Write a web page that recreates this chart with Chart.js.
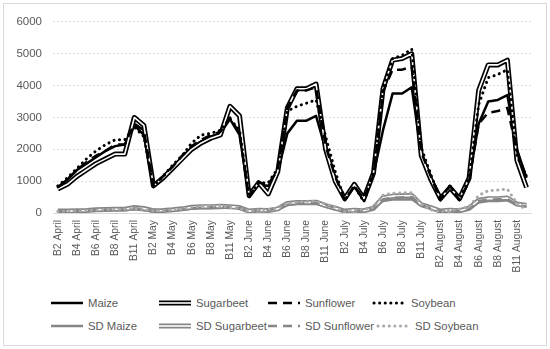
<!DOCTYPE html>
<html>
<head>
<meta charset="utf-8">
<script src="https://cdn.jsdelivr.net/npm/chart.js@4/dist/chart.umd.min.js"></script>
<style>
  body { margin: 0; background: #fff; font-family: "Liberation Sans", Arial, sans-serif; }
  #frame { position: absolute; left: 3px; top: 3px; width: 542px; height: 341px; border: 1px solid #d9d9d9; }
  #wrap { position: absolute; left: 0; top: 0; width: 542px; height: 276px; }
  .lg { position: absolute; height: 14px; display: flex; align-items: center; font-size: 11.3px; color: #595959; white-space: nowrap; }
  .lg canvas { margin-right: 3px; }
</style>
</head>
<body>
<div id="frame">
  <div id="wrap"><canvas id="chart"></canvas></div>
  <div id="legend"></div>
</div>
<script>
// categories: 10 Sentinel bands per month
const bands = ['B2', 'B3', 'B4', 'B5', 'B6', 'B7', 'B8', 'B8A', 'B11', 'B12'];
const months = ['April', 'May', 'June', 'July', 'August'];
const categories = months.flatMap(m => bands.map(b => b + ' ' + m));
const yTicks = [0, 1000, 2000, 3000, 4000, 5000, 6000];

// mean reflectance (x10000)
const maize = [
  800, 1050, 1350, 1550, 1750, 1950, 2100, 2150, 2750, 2450,
  850, 1150, 1450, 1750, 2050, 2250, 2400, 2500, 2950, 2450,
  500, 900, 850, 1300, 2500, 2900, 2900, 3050, 2000, 1050,
  400, 850, 500, 1200, 2600, 3750, 3750, 3950, 1850, 1100,
  400, 850, 450, 1050, 2800, 3500, 3550, 3700, 2000, 1100
];
const sugarbeet = [
  750, 900, 1150, 1350, 1550, 1700, 1850, 1850, 3000, 2750,
  850, 1100, 1400, 1700, 2000, 2200, 2350, 2450, 3350, 3050,
  550, 950, 600, 1300, 3300, 3900, 3900, 4050, 2000, 1000,
  450, 900, 450, 1250, 3900, 4800, 4850, 5000, 1800, 1050,
  450, 800, 450, 1100, 3850, 4650, 4650, 4800, 1650, 800
];
const sunflower = [
  800, 1050, 1350, 1600, 1800, 1950, 2150, 2150, 2800, 2600,
  850, 1150, 1450, 1800, 2100, 2300, 2450, 2550, 3000, 2500,
  500, 950, 900, 1350, 3300, 3850, 3850, 3950, 2100, 1150,
  400, 850, 450, 1200, 3800, 4500, 4500, 4600, 1900, 1150,
  400, 850, 400, 1000, 2800, 3150, 3200, 3300, 1950, 1100
];
const soybean = [
  850, 1100, 1400, 1700, 1950, 2150, 2300, 2300, 2700, 2400,
  850, 1150, 1500, 1800, 2200, 2450, 2500, 2600, 2950, 2600,
  550, 950, 950, 1400, 3200, 3350, 3450, 3550, 2400, 1300,
  400, 850, 350, 1250, 3900, 4850, 4950, 5150, 2050, 1200,
  450, 850, 400, 1100, 3400, 4250, 4350, 4500, 1800, 1150
];

// standard deviations
const sdMaize = [
  50, 50, 60, 70, 80, 90, 100, 100, 120, 90,
  60, 70, 80, 100, 130, 150, 150, 160, 170, 150,
  40, 80, 70, 120, 250, 280, 280, 290, 200, 120,
  60, 80, 60, 120, 380, 420, 420, 430, 230, 150,
  60, 80, 60, 120, 330, 380, 380, 400, 260, 220
];
const sdSugarbeet = [
  60, 60, 70, 80, 100, 110, 120, 120, 170, 140,
  70, 80, 100, 130, 180, 200, 200, 210, 200, 170,
  60, 90, 80, 130, 300, 330, 330, 340, 230, 150,
  60, 90, 70, 150, 480, 530, 540, 550, 260, 170,
  60, 90, 70, 150, 400, 450, 450, 470, 280, 240
];
const sdSunflower = [
  50, 60, 70, 80, 90, 100, 110, 110, 150, 120,
  60, 70, 90, 110, 150, 170, 180, 190, 190, 160,
  50, 90, 90, 150, 260, 300, 310, 320, 250, 170,
  50, 70, 80, 130, 430, 480, 490, 500, 250, 150,
  60, 70, 60, 120, 380, 420, 430, 440, 260, 200
];
const sdSoybean = [
  50, 60, 70, 80, 90, 110, 120, 120, 140, 110,
  60, 80, 100, 120, 180, 210, 220, 230, 170, 140,
  50, 100, 110, 160, 290, 340, 360, 370, 280, 180,
  40, 80, 120, 170, 560, 620, 630, 640, 280, 100,
  50, 80, 120, 200, 550, 700, 720, 750, 300, 100
];

const GRAY = '#858585';
const series = [
  { label: 'Maize', data: maize, color: '#000', width: 2.5 },
  { label: 'Sugarbeet', data: sugarbeet, color: '#000', width: 5, inner: '#fff' },
  { label: 'Sunflower', data: sunflower, color: '#000', width: 2.5, dash: [9, 6] },
  { label: 'Soybean', data: soybean, color: '#000', width: 3, dash: [0.1, 5.5], cap: 'round' },
  { label: 'SD Maize', data: sdMaize, color: GRAY, width: 2.5 },
  { label: 'SD Sugarbeet', data: sdSugarbeet, color: GRAY, width: 5, inner: '#fff' },
  { label: 'SD Sunflower', data: sdSunflower, color: GRAY, width: 2.5, dash: [9, 6] },
  { label: 'SD Soybean', data: sdSoybean, color: '#a8a8a8', width: 3, dash: [0.1, 5.5], cap: 'round' }
];

// white core for the double lines, drawn right after its dataset
const doubleLine = {
  id: 'doubleLine',
  afterDatasetDraw(chart, args) {
    const ds = chart.data.datasets[args.index];
    if (!ds.innerColor) return;
    const ctx = chart.ctx;
    ctx.save();
    ctx.beginPath();
    args.meta.data.forEach((p, i) => i ? ctx.lineTo(p.x, p.y) : ctx.moveTo(p.x, p.y));
    ctx.lineWidth = 1.6;
    ctx.strokeStyle = ds.innerColor;
    ctx.lineJoin = 'round';
    ctx.stroke();
    ctx.restore();
  }
};

const chart = new Chart(document.getElementById('chart'), {
  type: 'line',
  data: {
    labels: categories,
    datasets: series.map((s, i) => ({
      label: s.label,
      data: s.data,
      borderColor: s.color,
      borderWidth: s.width,
      borderDash: s.dash || [],
      borderCapStyle: s.cap || 'butt',
      borderJoinStyle: 'round',
      innerColor: s.inner,
      pointRadius: 0,
      tension: 0,
      fill: false,
      order: 10 - i
    }))
  },
  options: {
    responsive: true,
    maintainAspectRatio: false,
    animation: false,
    layout: { padding: { left: 0, right: 14, top: 15, bottom: 0 } },
    plugins: { legend: { display: false }, tooltip: { enabled: false } },
    scales: {
      x: {
        offset: true,
        grid: { display: false, drawTicks: false },
        border: { color: '#d9d9d9', width: 1 },
        ticks: {
          autoSkip: false, maxRotation: 90, minRotation: 90, padding: 7,
          color: '#595959', font: { family: 'Liberation Sans', size: 10.3 },
          callback: (v, i) => i % 2 === 0 ? categories[i] : ''
        },
        afterFit: s => { s.height = 67; }
      },
      y: {
        min: 0, max: 6000,
        afterBuildTicks: s => { s.ticks = yTicks.map(v => ({ value: v })); },
        grid: { color: '#dcdcdc', drawTicks: false },
        border: { display: false, dash: [2, 2] },
        ticks: {
          padding: 11, color: '#595959', font: { family: 'Liberation Sans', size: 11.5 },
          callback: v => String(v)
        },
        afterFit: s => { s.width = 49; }
      }
    }
  },
  plugins: [doubleLine]
});

// legend built from the chart's datasets
const legendPos = [[45, 292], [153, 292], [262, 292], [368, 292], [45, 315], [153, 315], [262, 315], [372, 315]];
const legend = document.getElementById('legend');
chart.data.datasets.forEach((ds, i) => {
  const item = document.createElement('div');
  item.className = 'lg';
  item.style.left = legendPos[i][0] + 'px';
  item.style.top = legendPos[i][1] + 'px';
  const c = document.createElement('canvas');
  c.width = 36; c.height = 10;
  const g = c.getContext('2d');
  g.strokeStyle = ds.borderColor;
  g.lineWidth = ds.borderWidth;
  g.lineCap = ds.borderCapStyle;
  g.setLineDash(ds.borderDash);
  g.beginPath(); g.moveTo(2, 5); g.lineTo(34, 5); g.stroke();
  if (ds.innerColor) {
    g.setLineDash([]);
    g.lineWidth = 1.6; g.strokeStyle = ds.innerColor;
    g.beginPath(); g.moveTo(2, 5); g.lineTo(34, 5); g.stroke();
  }
  item.appendChild(c);
  const t = document.createElement('span');
  t.textContent = ds.label;
  item.appendChild(t);
  legend.appendChild(item);
});
</script>
</body>
</html>
